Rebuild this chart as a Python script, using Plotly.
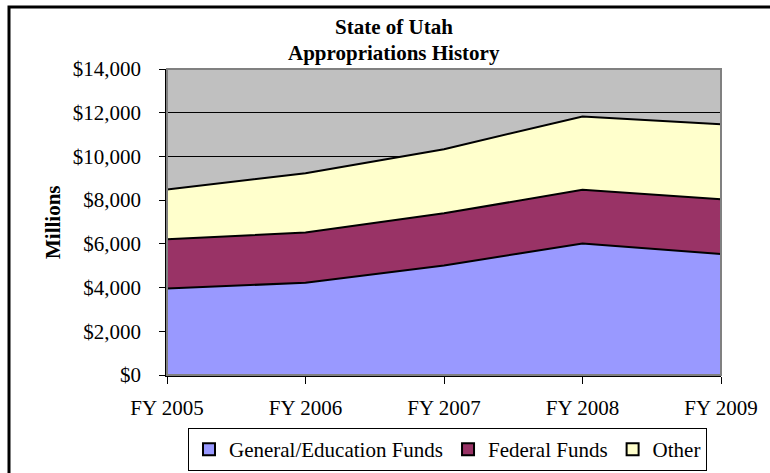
import plotly.graph_objects as go

years = ["FY 2005", "FY 2006", "FY 2007", "FY 2008", "FY 2009"]
general_education = [3960, 4220, 5010, 6020, 5540]
federal_funds = [2250, 2300, 2390, 2450, 2500]
other = [2280, 2710, 2930, 3360, 3430]

series_names = ["General/Education Funds", "Federal Funds", "Other"]
series_values = [general_education, federal_funds, other]
series_colors = ["#9999FF", "#993366", "#FFFFCC"]

FONT = "Liberation Serif, Times New Roman, serif"
FS = 21

fig = go.Figure()
for name, vals, col in zip(series_names, series_values, series_colors):
    fig.add_trace(go.Scatter(
        x=years, y=vals, name=name, mode="lines", stackgroup="one",
        line=dict(color="black", width=2), fillcolor=col, showlegend=False,
        hoverinfo="x+y+name"))

for name, col in zip(series_names, series_colors):
    fig.add_trace(go.Scatter(
        x=[None], y=[None], name=name, mode="markers",
        marker=dict(symbol="square", size=14, color=col, line=dict(color="black", width=2)),
        showlegend=True))

W, H = 770, 473
L, R, T, B = 167, 49, 69, 98
pw, ph = W - L - R, H - T - B

def px(x):
    return (x - L) / pw

def py(y):
    return (H - B - y) / ph

border_path = "M {x0},{yb} L {x0},{yt} L {xr},{yt}".format(
    x0=px(9), yb=py(490), yt=py(7), xr=px(790))

fig.update_layout(
    width=W, height=H,
    margin=dict(l=L, r=R, t=T, b=B, autoexpand=False),
    paper_bgcolor="white",
    plot_bgcolor="#C0C0C0",
    font=dict(family=FONT, size=FS, color="black"),
    showlegend=True,
    legend=dict(
        orientation="h", x=px(447.5), xanchor="center", y=py(428), yanchor="top",
        bordercolor="black", borderwidth=1, bgcolor="white", traceorder="normal",
        font=dict(family=FONT, size=21, color="black"),
        itemsizing="constant", tracegroupgap=0),
    xaxis=dict(
        type="category", range=[0, 4], showgrid=False,
        showline=True, linecolor="black", linewidth=2,
        ticks="outside", ticklen=7, tickcolor="black", tickwidth=1,
        ticklabelstandoff=6, tickfont=dict(family=FONT, size=FS)),
    yaxis=dict(
        range=[0, 14000], dtick=2000, tickprefix="$", tickformat=",",
        showgrid=True, gridcolor="black", gridwidth=1,
        showline=True, linecolor="black", linewidth=1.5,
        ticks="outside", ticklen=6, tickcolor="black", tickwidth=1,
        ticklabelstandoff=14, tickfont=dict(family=FONT, size=FS),
        zeroline=False),
    annotations=[
        dict(text="<b>State of Utah</b>", x=px(394), y=py(27), xref="paper", yref="paper",
             xanchor="center", yanchor="middle",
             showarrow=False, font=dict(family=FONT, size=FS)),
        dict(text="<b>Appropriations History</b>", x=px(394), y=py(53), xref="paper", yref="paper",
             xanchor="center", yanchor="middle",
             showarrow=False, font=dict(family=FONT, size=FS)),
        dict(text="<b>Millions</b>", x=px(53), y=py(222), xref="paper", yref="paper",
             xanchor="center", yanchor="middle",
             showarrow=False, textangle=-90, font=dict(family=FONT, size=FS)),
    ],
    shapes=[
        dict(type="rect", xref="paper", yref="paper", x0=0, x1=1, y0=0, y1=1,
             line=dict(color="#808080", width=2), layer="above"),
        dict(type="path", xref="paper", yref="paper", path=border_path,
             line=dict(color="black", width=3), layer="above"),
    ],
)

fig.write_html("out.html", config={"displayModeBar": False},
               post_script="document.body.style.margin='0';document.body.style.overflow='hidden';")
